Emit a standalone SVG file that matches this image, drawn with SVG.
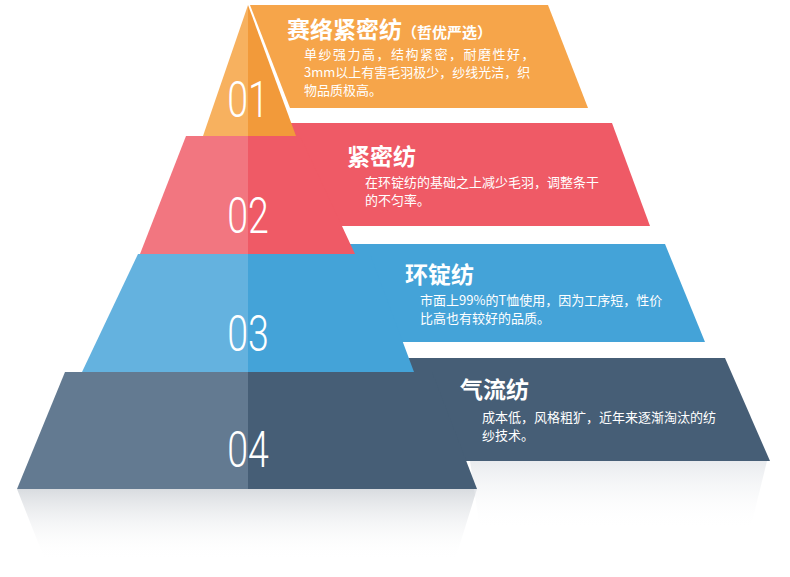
<svg xmlns="http://www.w3.org/2000/svg" width="790" height="577" viewBox="0 0 790 577">
<defs>
<linearGradient id="refl" x1="0" y1="0" x2="0" y2="1"><stop offset="0" stop-color="#cfd3d8" stop-opacity="0.8"/><stop offset="1" stop-color="#fff" stop-opacity="0"/></linearGradient>
<linearGradient id="refl2" x1="0" y1="0" x2="0" y2="1"><stop offset="0" stop-color="#e3e6ea" stop-opacity="0.8"/><stop offset="1" stop-color="#fff" stop-opacity="0"/></linearGradient>
</defs>
<style>
.t{font-family:"Noto Sans CJK SC",sans-serif;font-weight:bold;fill:#fff;font-size:23px}
.b{font-family:"Noto Sans CJK SC",sans-serif;fill:#fff;font-size:13px}
.n{font-family:Roboto,"Liberation Sans",sans-serif;font-weight:300;fill:#fff;font-size:50px}
</style>
<rect width="790" height="577" fill="#fff"/>
<polygon points="17,489 477,489 455,560 45,560" fill="url(#refl)"/>
<polygon points="470,461 767,461 750,530 480,530" fill="url(#refl2)"/>
<g id="node4">
<polygon points="400,358 725,358 770,461 440,461" fill="#465e76"/>
<polygon points="65,372 248,372 248,489 17,489" fill="#637a91"/>
<polygon points="248,372 432,372 477,489 248,489" fill="#465e76"/>
<text class="n" x="248" y="467" text-anchor="middle" transform="translate(248 0) scale(0.75 1) translate(-248 0)">04</text>
<text class="t" x="460" y="398">气流纺</text>
<text class="b" x="482" y="422">成本低，风格粗犷，近年来逐渐淘汰的纺</text>
<text class="b" x="482" y="440">纱技术。</text>
</g>
<g id="node3">
<polygon points="330,244 665,244 705,342 380,342" fill="#44a3d8"/>
<polygon points="138,254 248,254 248,372 82,372" fill="#64b2df"/>
<polygon points="248,254 370,254 414,372 248,372" fill="#44a3d8"/>
<text class="n" x="248" y="351" text-anchor="middle" transform="translate(248 0) scale(0.75 1) translate(-248 0)">03</text>
<text class="t" x="405" y="283">环锭纺</text>
<text class="b" x="420" y="305">市面上99%的T恤使用，因为工序短，性价</text>
<text class="b" x="420" y="323">比高也有较好的品质。</text>
</g>
<g id="node2">
<polygon points="280,123 612,123 650,226 320,226" fill="#ef5a66"/>
<polygon points="186,136 248,136 248,254 140,254" fill="#f27680"/>
<polygon points="248,136 300,136 355,254 248,254" fill="#ef5a66"/>
<text class="n" x="248" y="233" text-anchor="middle" transform="translate(248 0) scale(0.75 1) translate(-248 0)">02</text>
<text class="t" x="347" y="165">紧密纺</text>
<text class="b" x="365" y="187">在环锭纺的基础之上减少毛羽，调整条干</text>
<text class="b" x="365" y="205">的不匀率。</text>
</g>
<g id="node1">
<polygon points="250,5 548,5 588,108 290,108" fill="#f6a54a"/>
<polygon points="248,5 248,136 203,136" fill="#f7b15f"/>
<polygon points="248,5 296,136 248,136" fill="#f29a3a"/>
<text class="n" x="248" y="117" text-anchor="middle" transform="translate(248 0) scale(0.75 1) translate(-248 0)">01</text>
<text class="t" x="287" y="38">赛络紧密纺<tspan font-size="15">（哲优严选）</tspan></text>
<text class="b" x="304" y="59" letter-spacing="1.5">单纱强力高，结构紧密，耐磨性好，</text>
<text class="b" x="304" y="77">3mm以上有害毛羽极少，纱线光洁，织</text>
<text class="b" x="304" y="95">物品质极高。</text>
</g>
<g id="connectors"/>
</svg>
